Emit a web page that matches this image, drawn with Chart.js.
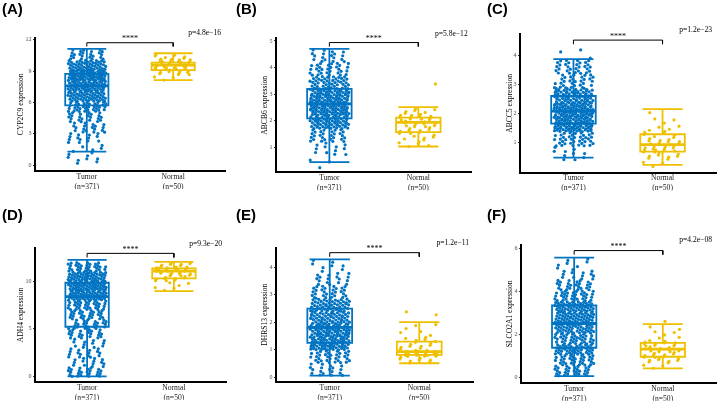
<!DOCTYPE html>
<html>
<head>
<meta charset="utf-8">
<script src="https://cdn.jsdelivr.net/npm/chart.js@4.4.0/dist/chart.umd.min.js"></script>
<style>
html, body { margin: 0; padding: 0; background: #fff; }
#wrap { position: relative; width: 720px; height: 402px; overflow: hidden; }
#wrap canvas { position: absolute; }
</style>
</head>
<body>
<div id="wrap"></div>
<script>
// ---- data ----
const panelLetters = ['(A)', '(B)', '(C)', '(D)', '(E)', '(F)'];
const genes = ['CYP2C9', 'ABCB6', 'ABCC5', 'ADH4', 'DHRS13', 'SLCO2A1'];
const pValues = ['p=4.8e\u221216', 'p=5.8e\u221212', 'p=1.2e\u221223', 'p=9.3e\u221220', 'p=1.2e\u221211', 'p=4.2e\u221208'];
const groups = ['Tumor', 'Normal'];
const groupN = [371, 50];
const yTicks = [[0, 3, 6, 9, 12], [1, 2, 3, 4, 5], [1, 2, 3, 4], [0, 5, 10], [0, 1, 2, 3, 4], [0, 2, 4, 6]];
const yLimits = [[-0.57, 12.21], [0.06, 5.10], [-0.03, 4.74], [-0.52, 13.42], [-0.16, 4.70], [-0.25, 6.17]];

// box stats: [lower whisker, Q1, median, Q3, upper whisker]
const tumorBox = [
  [1.28, 5.72, 7.57, 8.72, 11.12],
  [0.44, 2.09, 2.63, 3.20, 4.70],
  [0.48, 1.66, 2.09, 2.61, 3.88],
  [0.04, 5.22, 8.36, 9.82, 12.2],
  [0.06, 1.25, 1.81, 2.49, 4.28],
  [0.06, 1.38, 2.51, 3.35, 5.58]
];
const normalBox = [
  [8.12, 9.08, 9.56, 9.81, 10.7],
  [1.03, 1.57, 1.94, 2.12, 2.51],
  [0.23, 0.69, 0.93, 1.29, 2.16],
  [8.95, 10.28, 11.04, 11.33, 12.0],
  [0.51, 0.81, 0.93, 1.29, 2.0],
  [0.42, 0.96, 1.32, 1.61, 2.48]
];

// jittered samples, as counts per value band: [band start, band width, counts...]
const tumorBins = [
  [0.1, 1.0, [8, 6, 14, 18, 22, 36, 52, 62, 82, 48, 23]],
  [0.2, 0.5, [3, 12, 28, 68, 87, 80, 45, 30, 18]],
  [0.38, 0.5, [10, 38, 93, 96, 71, 30, 30, 3]],
  [0.0, 1.0, [24, 14, 16, 12, 22, 25, 28, 33, 53, 62, 50, 32]],
  [0.05, 0.47, [18, 33, 78, 76, 60, 53, 28, 17, 8]],
  [0.06, 0.5, [29, 33, 45, 38, 46, 52, 50, 33, 25, 13, 7]]
];
const normalBins = [
  [8.1, 0.52, [3, 10, 16, 15, 6]],
  [1.01, 0.25, [5, 6, 9, 11, 12, 6, 0, 0, 0, 1]],
  [0.16, 0.25, [3, 8, 13, 11, 7, 4, 3, 1]],
  [9.0, 0.5, [3, 3, 9, 10, 17, 8]],
  [0.5, 0.25, [8, 20, 8, 6, 3, 3, 0, 2]],
  [0.4, 0.26, [3, 8, 9, 11, 10, 3, 3, 2, 1]]
];

// significance bracket: bar height and tip height
const bracketY = [11.71, 4.94, 4.54, 12.89, 4.52, 5.91];
const bracketTip = [11.35, 4.79, 4.40, 12.46, 4.37, 5.72];
const stars = '****';

// ---- layout ----
const cells = [[0, 0, 232, 200], [232, 0, 248, 200], [480, 0, 240, 200],
               [0, 200, 232, 202], [232, 200, 248, 202], [480, 200, 240, 202]];
const plotAreas = [[35, 37.5, 225, 171], [276, 38.3, 471.7, 172.3], [520, 34.3, 719, 172.5],
                   [35, 248.3, 226, 381.7], [276, 247.7, 473, 381.7], [521, 245, 719, 382.7]];
const titleX = [21, 265, 510, 20.7, 265, 510];
const letterPos = [[2, 10], [236, 10], [487, 10], [2, 216], [236, 216], [487, 216]];

const colors = ['#0073C2', '#EFC000'];
const serif = '"Liberation Serif", "Times New Roman", serif';
const yAxisW = 30, xAxisH = 18;
const boxHalf = 0.25, capHalf = 0.225, jitter = 0.22;

function samplePoints(bins, xc) {
  const [start, width, counts] = bins;
  const pts = [];
  counts.forEach((n, i) => {
    for (let j = 0; j < n; j++) {
      const u = (0.5 + j * 0.7548776662 + i * 0.381966) % 1;
      const v = (0.5 + j * 0.5698402910) % 1;
      pts.push({x: xc + (u - 0.5) * 2 * jitter, y: start + width * (i + v)});
    }
  });
  return pts;
}

function boxSets(b, xc, color) {
  const [lo, q1, med, q3, hi] = b;
  const line = (data, w, extra) => Object.assign({
    type: 'scatter', data, showLine: true, pointRadius: 0, borderColor: color,
    borderWidth: w, tension: 0, order: 1, borderJoinStyle: 'miter'
  }, extra || {});
  return [
    line([{x: xc - boxHalf, y: q1}, {x: xc + boxHalf, y: q1}, {x: xc + boxHalf, y: q3},
          {x: xc - boxHalf, y: q3}, {x: xc - boxHalf, y: q1}], 1.8, {borderCapStyle: 'square'}),
    line([{x: xc - boxHalf, y: med}, {x: xc + boxHalf, y: med}], 2.8),
    line([{x: xc, y: q3}, {x: xc, y: hi}, {x: xc - capHalf, y: hi}, {x: xc + capHalf, y: hi}], 1.8),
    line([{x: xc, y: q1}, {x: xc, y: lo}, {x: xc - capHalf, y: lo}, {x: xc + capHalf, y: lo}], 1.8)
  ];
}

const wrap = document.getElementById('wrap');

for (let p = 0; p < 6; p++) {
  const [cx, cy, cw, ch] = cells[p];
  const [L, T, R, B] = plotAreas[p];
  const canvas = document.createElement('canvas');
  canvas.width = cw;
  canvas.height = ch;
  canvas.style.left = cx + 'px';
  canvas.style.top = cy + 'px';
  wrap.appendChild(canvas);

  const padLeft = L - cx - yAxisW;
  const titlePad = titleX[p] - cx - padLeft - 7.6 * 1.2 / 2;

  const datasets = [
    {type: 'scatter', data: samplePoints(tumorBins[p], 1), pointRadius: 1.6, pointBorderWidth: 0,
     backgroundColor: colors[0], order: 0},
    {type: 'scatter', data: samplePoints(normalBins[p], 2), pointRadius: 1.6, pointBorderWidth: 0,
     backgroundColor: colors[1], order: 0},
    ...boxSets(tumorBox[p], 1, colors[0]),
    ...boxSets(normalBox[p], 2, colors[1]),
    {type: 'scatter', data: [{x: 1, y: bracketTip[p]}, {x: 1, y: bracketY[p]}, {x: 2, y: bracketY[p]}, {x: 2, y: bracketTip[p]}],
     showLine: true, pointRadius: 0, borderColor: '#000', borderWidth: 1, tension: 0, order: 2}
  ];

  new Chart(canvas, {
    type: 'scatter',
    data: {datasets},
    options: {
      responsive: false,
      animation: false,
      devicePixelRatio: 1,
      events: [],
      layout: {padding: {left: padLeft, top: T - cy, right: cx + cw - R, bottom: cy + ch - B - xAxisH}},
      plugins: {legend: {display: false}, tooltip: {enabled: false}},
      scales: {
        x: {
          type: 'linear', min: 0.4, max: 2.6,
          afterBuildTicks: s => { s.ticks = [{value: 1}, {value: 2}]; },
          afterFit: s => { s.height = xAxisH; },
          border: {display: true, color: '#000', width: 2},
          grid: {display: false, drawTicks: false, tickLength: 0},
          ticks: {
            font: {family: serif, size: 7.6, lineHeight: 1.3}, color: '#1a1a1a', padding: 1,
            maxRotation: 0, autoSkip: false,
            callback: v => [groups[v - 1], '(n=' + groupN[v - 1] + ')']
          }
        },
        y: {
          min: yLimits[p][0], max: yLimits[p][1],
          afterBuildTicks: s => { s.ticks = yTicks[p].map(v => ({value: v})); },
          afterFit: s => { s.width = yAxisW; },
          border: {display: true, color: '#000', width: 2},
          grid: {display: true, drawOnChartArea: false, drawTicks: true, tickLength: 2, color: '#333', lineWidth: 1},
          ticks: {font: {family: serif, size: 6}, color: '#4d4d4d', padding: 1.5},
          title: {display: true, text: genes[p] + ' expression', color: '#000',
                  font: {family: serif, size: 7.6}, padding: {top: titlePad, bottom: 0}}
        }
      }
    },
    plugins: [{
      id: 'panelText',
      afterDraw(chart) {
        const ctx = chart.ctx;
        const area = chart.chartArea;
        const xs = chart.scales.x, ys = chart.scales.y;
        ctx.save();
        ctx.fillStyle = '#000';
        ctx.textBaseline = 'middle';
        ctx.textAlign = 'left';
        ctx.font = 'bold 15px "Liberation Sans", Arial, sans-serif';
        ctx.fillText(panelLetters[p], letterPos[p][0] - cx, letterPos[p][1] - cy);
        ctx.font = '7.6px ' + serif;
        ctx.textAlign = 'right';
        ctx.fillText(pValues[p], area.right - 4, area.top - 4.8);
        ctx.textAlign = 'center';
        ctx.textBaseline = 'alphabetic';
        ctx.font = '8px ' + serif;
        ctx.fillText(stars, (xs.getPixelForValue(1) + xs.getPixelForValue(2)) / 2, ys.getPixelForValue(bracketY[p]) - 1.5);
        ctx.restore();
      }
    }]
  });
}
</script>
</body>
</html>
